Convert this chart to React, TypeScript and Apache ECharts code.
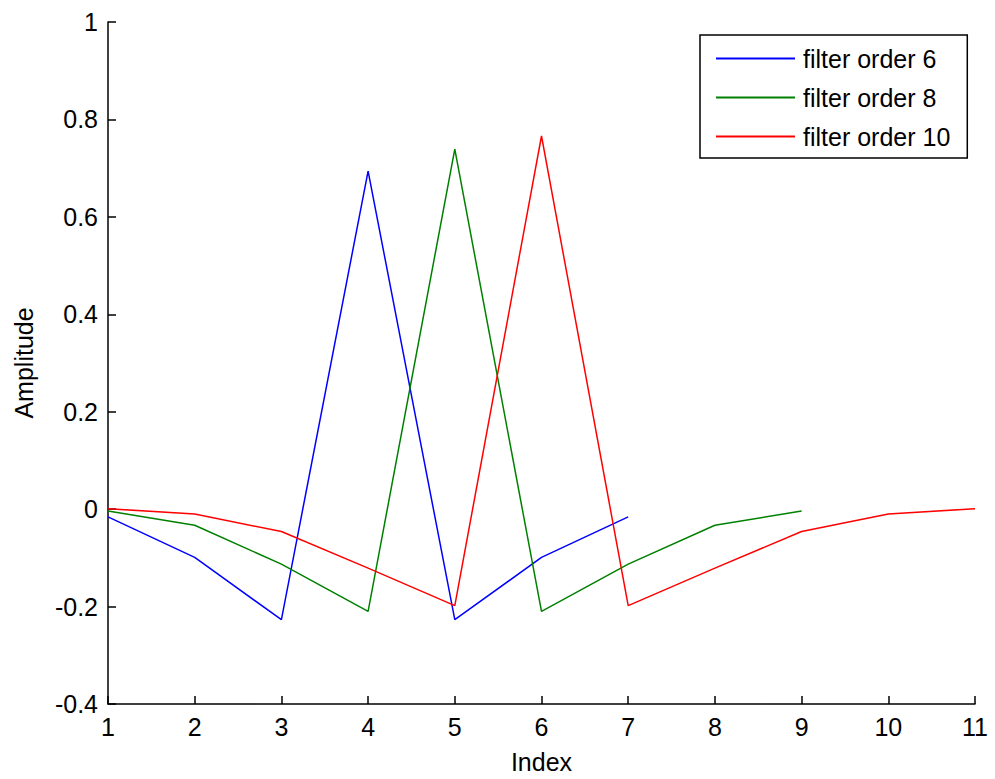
import React, { useEffect, useRef } from "react";
import * as echarts from "echarts";

const indexOrder6 = [1, 2, 3, 4, 5, 6, 7];
const ampOrder6 = [-0.016, -0.099, -0.227, 0.694, -0.227, -0.099, -0.016];

const indexOrder8 = [1, 2, 3, 4, 5, 6, 7, 8, 9];
const ampOrder8 = [-0.004, -0.033, -0.113, -0.21, 0.739, -0.21, -0.113, -0.033, -0.004];

const indexOrder10 = [1, 2, 3, 4, 5, 6, 7, 8, 9, 10, 11];
const ampOrder10 = [0.001, -0.01, -0.046, -0.121, -0.198, 0.766, -0.198, -0.121, -0.046, -0.01, 0.001];

const seriesNames = ["filter order 6", "filter order 8", "filter order 10"];
const seriesColors = ["#0000ff", "#008000", "#ff0000"];

const FONT = "'Liberation Sans', Arial, sans-serif";

export default function App() {
  const ref = useRef<HTMLDivElement>(null);
  useEffect(() => {
    if (!ref.current) return;
    const chart = echarts.init(ref.current, null, { renderer: "svg" });
    const xs = [indexOrder6, indexOrder8, indexOrder10];
    const ys = [ampOrder6, ampOrder8, ampOrder10];
    const axisCommon = {
      axisLine: { show: true, onZero: false, lineStyle: { color: "#000", width: 1.5 } },
      axisTick: { show: true, inside: true, length: 8, lineStyle: { color: "#000", width: 1.5 } },
      splitLine: { show: false },
      axisLabel: { color: "#000", fontSize: 25, fontFamily: FONT, margin: 10 },
      nameTextStyle: { color: "#000", fontSize: 25, fontFamily: FONT },
    };
    chart.setOption({
      animation: false,
      backgroundColor: "#fff",
      grid: { left: 108, right: 20, top: 22, bottom: 71 },
      xAxis: {
        type: "value",
        min: 1,
        max: 11,
        interval: 1,
        name: "Index",
        nameLocation: "middle",
        nameGap: 45,
        ...axisCommon,
      },
      yAxis: {
        type: "value",
        min: -0.4,
        max: 1,
        interval: 0.2,
        name: "Amplitude",
        nameLocation: "middle",
        nameGap: 72,
        ...axisCommon,
        axisLabel: {
          ...axisCommon.axisLabel,
          formatter: (v: number) => String(Math.round(v * 10) / 10),
        },
      },
      legend: {
        orient: "vertical",
        left: 700,
        top: 35,
        padding: [9, 17, 7, 16],
        itemGap: 10,
        itemWidth: 79,
        itemHeight: 2,
        borderColor: "#000",
        borderWidth: 1.5,
        backgroundColor: "#fff",
        icon: "rect",
        textStyle: { color: "#000", fontSize: 25, fontFamily: FONT, padding: [0, 0, 0, 3], lineHeight: 29 },
        data: seriesNames,
      },
      series: seriesNames.map((name, i) => ({
        name,
        type: "line",
        symbol: "none",
        color: seriesColors[i],
        lineStyle: { color: seriesColors[i], width: 1.5 },
        data: xs[i].map((x, j) => [x, ys[i][j]]),
      })),
    });
    return () => chart.dispose();
  }, []);
  return (
    <div
      ref={ref}
      style={{ position: "fixed", left: 0, top: 0, width: 995, height: 779, background: "#fff" }}
    />
  );
}
